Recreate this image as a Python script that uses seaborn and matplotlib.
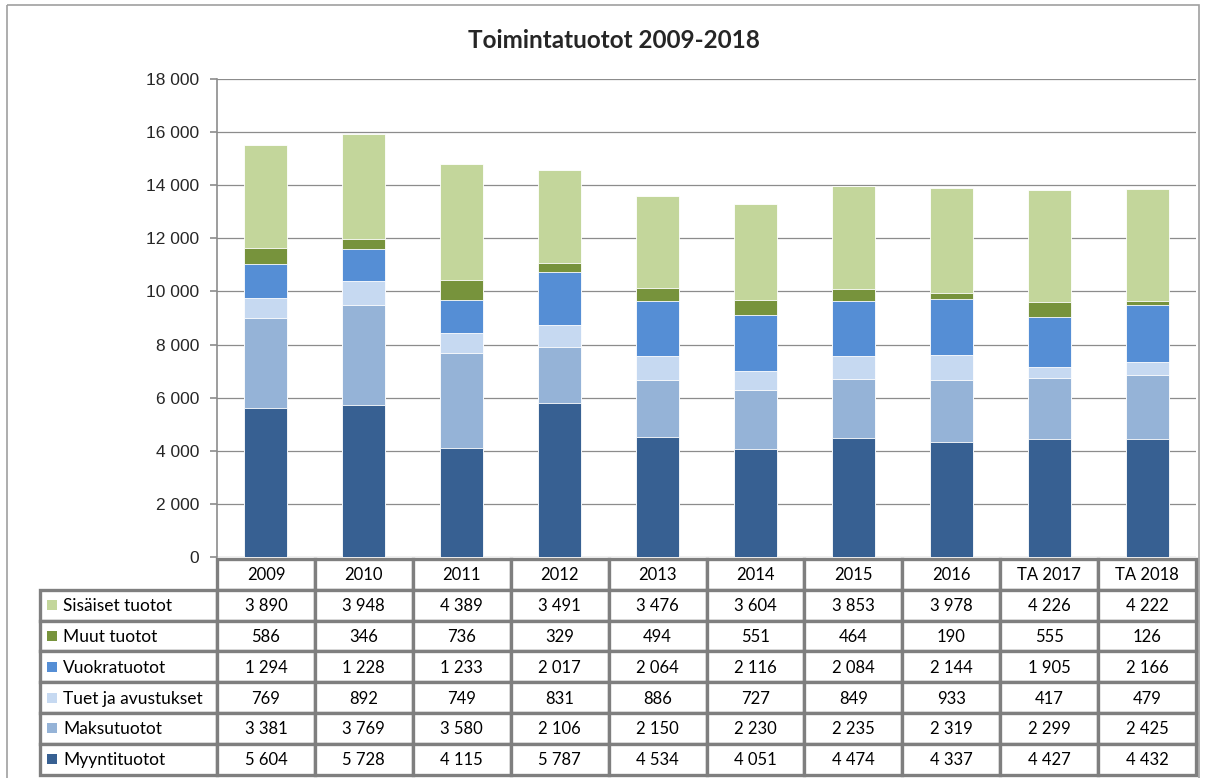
import numpy as np
import pandas as pd
import matplotlib
matplotlib.use('Agg')
import matplotlib.pyplot as plt
import seaborn as sns
from matplotlib.patches import Rectangle

# --- data ---
years = ['2009', '2010', '2011', '2012', '2013', '2014', '2015', '2016', 'TA 2017', 'TA 2018']
myyntituotot = [5604, 5728, 4115, 5787, 4534, 4051, 4474, 4337, 4427, 4432]
maksutuotot = [3381, 3769, 3580, 2106, 2150, 2230, 2235, 2319, 2299, 2425]
tuet = [769, 892, 749, 831, 886, 727, 849, 933, 417, 479]
vuokratuotot = [1294, 1228, 1233, 2017, 2064, 2116, 2084, 2144, 1905, 2166]
muut = [586, 346, 736, 329, 494, 551, 464, 190, 555, 126]
sisaiset = [3890, 3948, 4389, 3491, 3476, 3604, 3853, 3978, 4226, 4222]

# bottom to top
series = ['Myyntituotot', 'Maksutuotot', 'Tuet ja avustukset', 'Vuokratuotot', 'Muut tuotot', 'Sisäiset tuotot']
values = [myyntituotot, maksutuotot, tuet, vuokratuotot, muut, sisaiset]
colors = ['#376092', '#95b3d7', '#c6d9f1', '#558ed5', '#77933c', '#c3d69b']

sns.set_theme(style='white')
plt.rcParams['font.family'] = ['Liberation Sans', 'DejaVu Sans']

W, H = 1209, 778
fig = plt.figure(figsize=(W / 100, H / 100), dpi=100)

# plot area in pixel terms
px_l, px_r, px_t, px_b = 217, 1196, 79, 557
ax = fig.add_axes([px_l / W, 1 - px_b / H, (px_r - px_l) / W, (px_b - px_t) / H])

df = pd.DataFrame({'year': years})
cum = np.zeros(len(years))
cums = []
for v in values:
    cum = cum + np.array(v)
    cums.append(cum.copy())

# draw cumulative totals from the top layer down so each lower layer covers the one above
for name, c, col in reversed(list(zip(series, cums, colors))):
    df['val'] = c
    sns.barplot(data=df, x='year', y='val', color=col, width=0.44, ax=ax,
                edgecolor='white', linewidth=0.6, saturation=1, zorder=3)

ax.set_ylim(0, 18000)
ax.set_xlim(-0.5, len(years) - 0.5)
ax.set_yticks(np.arange(0, 18001, 2000))
ax.set_yticklabels([f'{int(t):,}'.replace(',', ' ') for t in np.arange(0, 18001, 2000)], fontsize=12.5)
ax.set_xticks([])
ax.set_xlabel('')
ax.set_ylabel('')
ax.grid(axis='y', color='#8c8c8c', linewidth=0.9, zorder=0)
for s in ['top', 'right', 'bottom']:
    ax.spines[s].set_visible(False)
ax.spines['left'].set_color('#8c8c8c')
ax.spines['left'].set_linewidth(1.2)
ax.tick_params(axis='y', left=True, length=5, color='#8c8c8c', width=1.2, pad=8)

# overlay axes in pixel coordinates for frame and title
ov = fig.add_axes([0, 0, 1, 1], zorder=-1)
ov.set_xlim(0, W)
ov.set_ylim(H, 0)
ov.axis('off')
ov.add_patch(Rectangle((7, 5), 1192, 790, fill=False, edgecolor='#a0a0a0', linewidth=1.2))

fig.text(614 / W, 1 - 40 / H, 'Toimintatuotot 2009-2018', ha='center', va='center',
         fontsize=17.5, fontweight='bold', family=['Lato', 'DejaVu Sans'])

# data table
tab = fig.add_axes([0, 0, 1, 1], zorder=5)
tab.set_xlim(0, W)
tab.set_ylim(H, 0)
tab.axis('off')

col_w = (px_r - px_l) / len(years)
row_top = 559
row_h = 30.8
edge = '#7f7f7f'
lw = 2.4
tfont = ['Lato', 'DejaVu Sans']
fs = 12

# header row
for i, y in enumerate(years):
    x0 = px_l + i * col_w
    tab.add_patch(Rectangle((x0, row_top), col_w, row_h, facecolor='white', edgecolor=edge, linewidth=lw))
    tab.text(x0 + col_w / 2, row_top + row_h / 2 + 1, y, ha='center', va='center', fontsize=fs, family=tfont, color='black')

# data rows, top to bottom
for r, (name, v, col) in enumerate(reversed(list(zip(series, values, colors)))):
    y0 = row_top + (r + 1) * row_h
    tab.add_patch(Rectangle((40, y0), px_l - 40, row_h, facecolor='white', edgecolor=edge, linewidth=lw))
    tab.add_patch(Rectangle((47, y0 + row_h / 2 - 5), 10, 10, facecolor=col, edgecolor='none'))
    tab.text(63, y0 + row_h / 2 + 1, name, ha='left', va='center', fontsize=12.5, family=tfont, color='black')
    for i, val in enumerate(v):
        x0 = px_l + i * col_w
        tab.add_patch(Rectangle((x0, y0), col_w, row_h, facecolor='white', edgecolor=edge, linewidth=lw))
        tab.text(x0 + col_w / 2, y0 + row_h / 2 + 1, f'{val:,}'.replace(',', ' '), ha='center', va='center',
                 fontsize=fs, family=tfont, color='black')

fig.savefig('out.png', dpi=100)
